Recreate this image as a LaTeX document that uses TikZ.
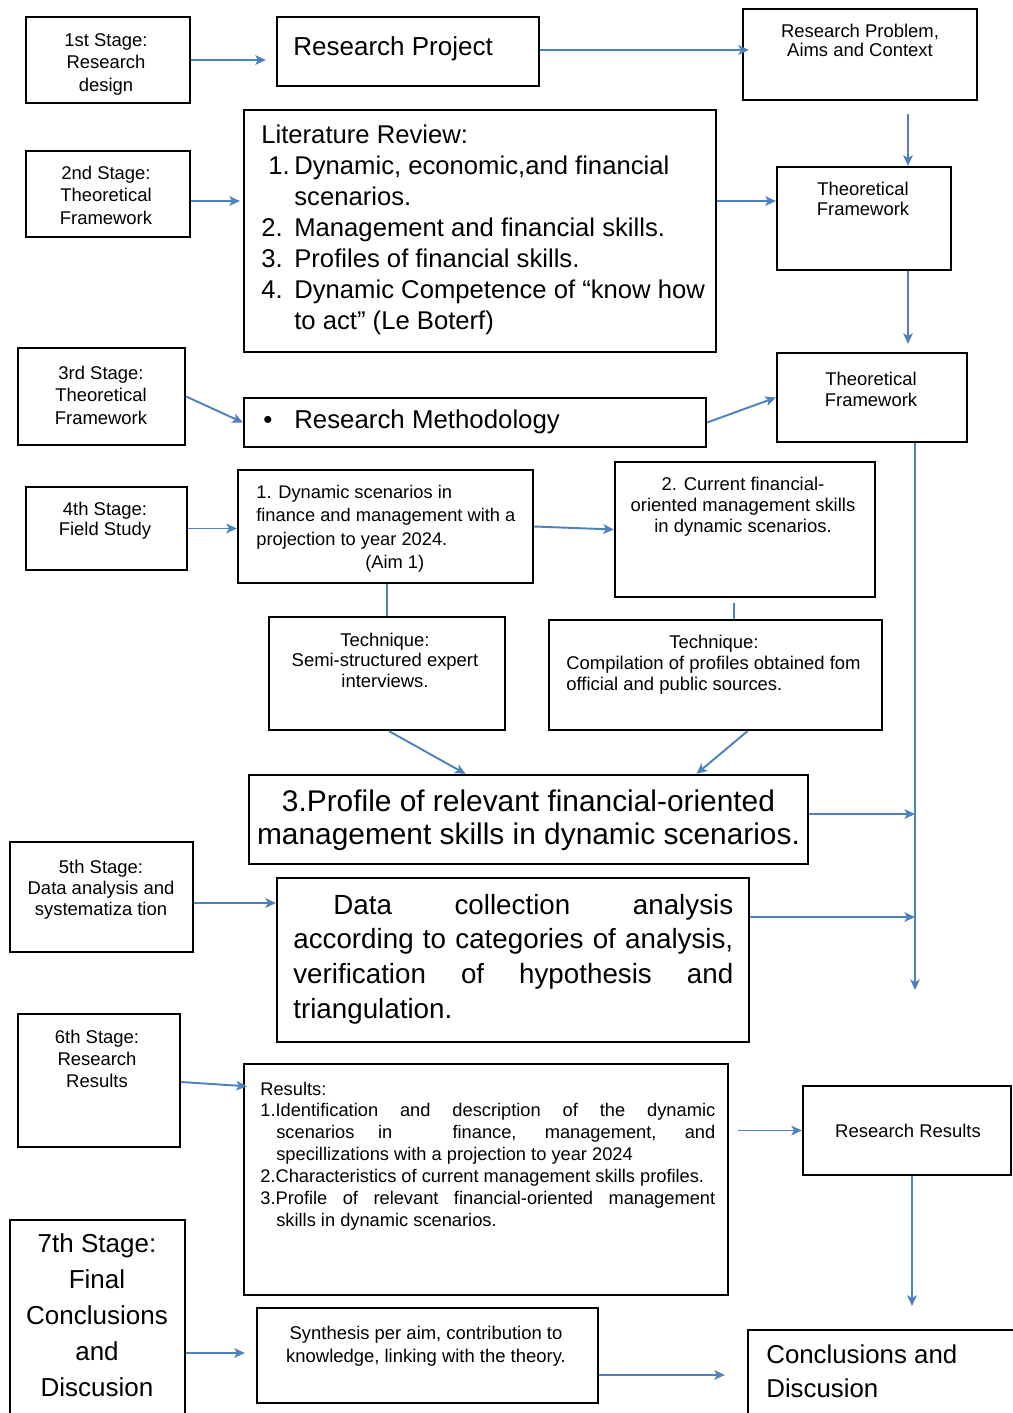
\documentclass[tikz,border=0pt]{standalone}
\usepackage{fontspec}
\setmainfont{Liberation Sans}
\usetikzlibrary{arrows.meta}
\definecolor{arr}{HTML}{4F81BD}
\begin{document}
\begin{tikzpicture}[x=0.02cm, y=-0.02cm,
  box/.style={draw=black, line width=1.3pt, inner sep=0pt},
  conn/.style={draw=arr, line width=1.1pt, -{Stealth[length=6pt,width=5.5pt,inset=1.5pt]}},
  plainline/.style={draw=arr, line width=1.1pt},
  sm/.style={inner sep=0pt, align=center, font=\fontsize{10.5}{12.8}\selectfont},
  lt/.style={inner sep=0pt, align=left}
]
\useasboundingbox (0,0) rectangle (1013,1413);

% ---------- boxes ----------
\node[box, minimum width=3.28cm, minimum height=1.72cm] (s1) at (108,60) {};
\node[box, minimum width=5.24cm, minimum height=1.38cm] (rp) at (408,51.5) {};
\node[box, minimum width=4.68cm, minimum height=1.82cm] (rpac) at (860,54.5) {};
\node[box, minimum width=3.28cm, minimum height=1.72cm] (s2) at (108,194) {};
\node[box, minimum width=9.44cm, minimum height=4.84cm] (lit) at (480,231) {};
\node[box, minimum width=3.48cm, minimum height=2.06cm] (tf1) at (864,218.5) {};
\node[box, minimum width=3.34cm, minimum height=1.94cm] (s3) at (101.5,396.5) {};
\node[box, minimum width=9.24cm, minimum height=0.98cm] (rm) at (475,422.5) {};
\node[box, minimum width=3.80cm, minimum height=1.78cm] (tf2) at (872,397.5) {};
\node[box, minimum width=3.22cm, minimum height=1.66cm] (s4) at (106.5,528.5) {};
\node[box, minimum width=5.90cm, minimum height=2.26cm] (a1) at (385.5,526.5) {};
\node[box, minimum width=5.20cm, minimum height=2.70cm] (a2) at (745,529.5) {};
\node[box, minimum width=4.72cm, minimum height=2.26cm] (t1) at (387,673.5) {};
\node[box, minimum width=6.66cm, minimum height=2.20cm] (t2) at (715.5,675) {};
\node[box, minimum width=11.18cm, minimum height=1.78cm] (prof) at (528.5,819.5) {};
\node[box, minimum width=3.66cm, minimum height=2.20cm] (s5) at (101.5,897) {};
\node[box, minimum width=9.44cm, minimum height=3.28cm] (dc) at (513,960) {};
\node[box, minimum width=3.24cm, minimum height=2.66cm] (s6) at (99,1080.5) {};
\node[box, minimum width=9.68cm, minimum height=4.62cm] (res) at (486,1179.5) {};
\node[box, minimum width=4.16cm, minimum height=1.78cm] (rr) at (907,1130.5) {};
\node[box, minimum width=3.50cm, minimum height=4.20cm] (s7) at (97.5,1325) {};
\node[box, minimum width=6.82cm, minimum height=1.90cm] (syn) at (427.5,1355.5) {};
\node[box, minimum width=5.64cm, minimum height=2.00cm] (cd) at (889,1380) {};

% ---------- texts (base = baseline of last line) ----------
\node[sm, anchor=base] (s1t) at (106,91) {1st Stage:\\Research\\design};
\node[lt, anchor=base west, font=\fontsize{14.8}{18}\selectfont] (rpt) at (293,55) {Research Project};
\node[sm, anchor=base, font=\fontsize{10.5}{10.8}\selectfont] (rpact) at (860,56) {Research Problem,\\Aims and Context};
\node[sm, anchor=base] (s2t) at (106,224) {2nd Stage:\\Theoretical\\Framework};
\node[lt, anchor=base west, font=\fontsize{14.6}{17.6}\selectfont] (litt) at (261,329)
 {Literature Review:\\
  \makebox[0.66cm][l]{\hspace{0.14cm}1.}Dynamic, economic,and financial\\
  \hspace*{0.66cm}scenarios.\\
  \makebox[0.66cm][l]{2.}Management and financial skills.\\
  \makebox[0.66cm][l]{3.}Profiles of financial skills.\\
  \makebox[0.66cm][l]{4.}Dynamic Competence of “know how\\
  \hspace*{0.66cm}to act” (Le Boterf)};
\node[sm, anchor=base, font=\fontsize{10.5}{11.3}\selectfont] (tf1t) at (863,215) {Theoretical\\Framework};
\node[sm, anchor=base] (s3t) at (101,424) {3rd Stage:\\Theoretical\\Framework};
\node[lt, anchor=base west, font=\fontsize{14.7}{17.6}\selectfont] (rmt) at (263,428) {\makebox[0.62cm][l]{\textbullet}Research Methodology};
\node[sm, anchor=base, font=\fontsize{10.5}{11.9}\selectfont] (tf2t) at (871,406) {Theoretical\\Framework};
\node[sm, anchor=base, font=\fontsize{10.5}{11.3}\selectfont] (s4t) at (105,535) {4th Stage:\\Field Study};
\node[lt, anchor=base west, font=\fontsize{10.4}{13.3}\selectfont] (a1t) at (256,568.5)
 {1. Dynamic scenarios in\\finance and management with a\\projection to year 2024.\\\hspace*{2.18cm}(Aim 1)};
\node[sm, anchor=base, font=\fontsize{10.5}{11.9}\selectfont] (a2t) at (743,532) {2. Current financial-\\oriented management skills\\in dynamic scenarios.};
\node[sm, anchor=base, font=\fontsize{10.5}{11.6}\selectfont] (t1t) at (385,687) {Technique:\\Semi-structured expert\\interviews.};
\node[lt, anchor=base west, font=\fontsize{10.5}{11.9}\selectfont] (t2t) at (566,690)
 {\hspace*{2.06cm}Technique:\\Compilation of profiles obtained fom\\official and public sources.};
\node[sm, anchor=base, font=\fontsize{17}{18.7}\selectfont] (proft) at (528.5,844) {3.Profile of relevant financial-oriented\\management skills in dynamic scenarios.};
\node[sm, anchor=base, font=\fontsize{10.5}{11.9}\selectfont] (s5t) at (101,915) {5th Stage:\\Data analysis and\\systematiza tion};
\node[inner sep=0pt, anchor=base west, text width=8.8cm, align=justify, font=\fontsize{15.8}{19.8}\selectfont] (dct) at (293,914)
 {\hspace*{0.8cm}Data collection analysis\linebreak according to categories of analysis,\linebreak verification of hypothesis and\linebreak triangulation.};
\node[sm, anchor=base, font=\fontsize{10.5}{12.5}\selectfont] (s6t) at (97,1087) {6th Stage:\\Research\\Results};
\node[inner sep=0pt, anchor=base west, text width=9.1cm, align=justify, font=\fontsize{10.4}{12.5}\selectfont] (rest) at (260,1095)
 {Results:\par
  \hangindent=0.32cm\hangafter=1 1.Identification and description of the dynamic\linebreak scenarios in\hspace{2em} finance, management, and\linebreak specillizations with a projection to year 2024\par
  \hangindent=0.32cm\hangafter=1 2.Characteristics of current management skills profiles.\par
  \hangindent=0.32cm\hangafter=1 3.Profile of relevant financial-oriented management\linebreak skills in dynamic scenarios.\par};
\node[sm, anchor=base] (rrt) at (908,1137) {Research Results};
\node[sm, anchor=base, font=\fontsize{14.8}{20.4}\selectfont] (s7t) at (97,1396) {7th Stage:\\Final\\Conclusions\\and\\Discusion};
\node[sm, anchor=base, font=\fontsize{10.5}{13}\selectfont] (synt) at (426,1362) {Synthesis per aim, contribution to\\knowledge, linking with the theory.};
\node[lt, anchor=base west, font=\fontsize{14.7}{19.3}\selectfont] (cdt) at (766,1397) {Conclusions and\\Discusion};

% ---------- connectors ----------
\coordinate (vend) at (915,990);
\draw[conn, shorten >=0.2cm] (s1.east) -- (s1.east -| rp.west);
\draw[conn, shorten >=-0.14cm] ([yshift=0.03cm]rp.east) -- ([yshift=0.03cm]rp.east -| rpac.west);
\draw[conn, shorten <=0.26cm] ([xshift=0.96cm]rpac.south) -- ([xshift=0.96cm]rpac.south |- tf1.north);
\draw[conn, shorten >=0.06cm] ([yshift=-0.14cm]s2.east) -- ([yshift=-0.14cm]s2.east -| lit.west);
\draw[conn] ([yshift=0.6cm]lit.east) -- ([yshift=0.6cm]lit.east -| tf1.west);
\draw[conn, shorten >=0.16cm] ([xshift=0.88cm]tf1.south) -- ([xshift=0.88cm]tf1.south |- tf2.north);
\draw[conn] (s3.east) -- (rm.west);
\draw[conn] (rm.east) -- (tf2.west);
\draw[conn] ([xshift=0.86cm]tf2.south) -- (vend);
\draw[conn] (s4.east) -- (s4.east -| a1.west);
\draw[conn] (a1.east) -- (a2.west);
\draw[plainline] ([xshift=0.03cm]a1.south) -- ([xshift=0.03cm]a1.south |- t1.north);
\draw[plainline, shorten <=0.1cm] ([xshift=-0.22cm]a2.south) -- ([xshift=-0.22cm]a2.south |- t2.north);
\draw[conn] ([xshift=0.04cm]t1.south) -- ([xshift=-1.26cm]prof.north);
\draw[conn] ([xshift=0.64cm]t2.south) -- ([xshift=3.36cm]prof.north);
\draw[conn] ([yshift=0.11cm]prof.east) -- ([yshift=0.11cm]prof.east -| vend);
\draw[conn] ([yshift=0.86cm]dc.east) -- ([yshift=0.86cm]dc.east -| vend);
\draw[conn] ([yshift=-0.12cm]s5.east) -- ([yshift=-0.12cm]s5.east -| dc.west);
\draw[conn, shorten >=-0.08cm] ([yshift=-0.03cm]s6.east) -- ([yshift=1.87cm]res.west);
\draw[conn, shorten <=0.18cm] (rr.west -| res.east) -- (rr.west);
\draw[conn, shorten >=0.46cm] ([xshift=0.1cm]rr.south) -- ([xshift=0.1cm]rr.south |- cd.north);
\draw[conn, shorten >=0.22cm] ([yshift=0.05cm]syn.west -| s7.east) -- ([yshift=0.05cm]syn.west);
\draw[conn, shorten >=0.44cm] ([yshift=-0.39cm]syn.east) -- ([yshift=-0.39cm]syn.east -| cd.west);
\end{tikzpicture}
\end{document}
